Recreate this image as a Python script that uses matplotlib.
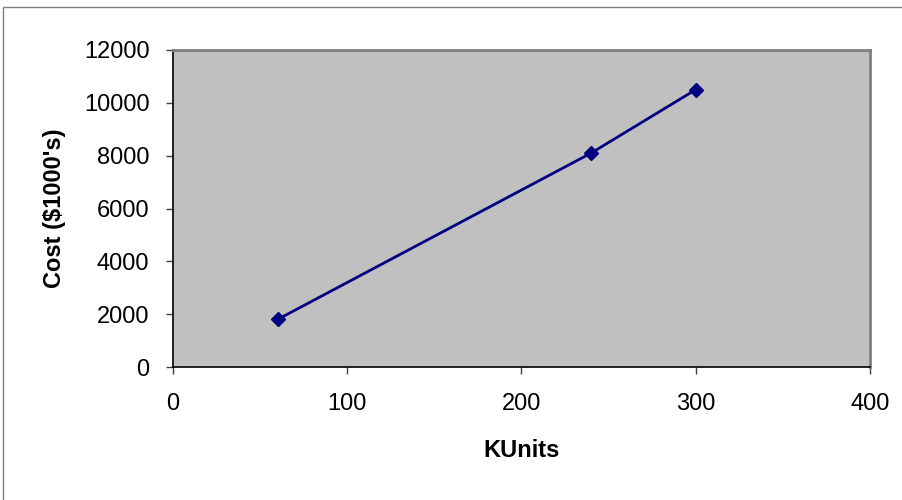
import matplotlib.pyplot as plt
from matplotlib.patches import Rectangle

# data
KUNITS = [60, 240, 300]
COST = [1800, 8100, 10500]
X_TICKS = [0, 100, 200, 300, 400]
Y_TICKS = [0, 2000, 4000, 6000, 8000, 10000, 12000]

plt.rcParams["font.family"] = ["Liberation Sans", "DejaVu Sans"]

W, H = 903, 500
fig = plt.figure(figsize=(W / 100, H / 100), dpi=100)
fig.patch.set_facecolor("white")

# outer chart border
fig.add_artist(Rectangle((3.5 / W, -0.1), 2, 1.1 - 7.5 / H, transform=fig.transFigure,
                         fill=False, edgecolor="#808080", linewidth=1.0))

left, right, top, bottom = 173, 870, 50, 367
ax = fig.add_axes([left / W, 1 - bottom / H, (right - left) / W, (bottom - top) / H])
ax.set_facecolor("#C0C0C0")

ax.plot(KUNITS, COST, color="#000080", linewidth=2, marker="D", markersize=7)

ax.set_xlim(0, 400)
ax.set_ylim(0, 12000)
ax.set_xticks(X_TICKS)
ax.set_yticks(Y_TICKS)
ax.tick_params(direction="out", length=5, width=1, color="#404040", labelsize=17)
ax.tick_params(axis="y", pad=12)
ax.tick_params(axis="x", pad=14)

for side in ("top", "right"):
    ax.spines[side].set_color("#808080")
    ax.spines[side].set_linewidth(2)
for side in ("left", "bottom"):
    ax.spines[side].set_color("black")
    ax.spines[side].set_linewidth(1.2)

ax.set_xlabel("KUnits", fontsize=17, fontweight="bold", labelpad=17)
ax.set_ylabel("Cost ($1000's)", fontsize=17, fontweight="bold", labelpad=13)

fig.savefig("out.png", dpi=100)
